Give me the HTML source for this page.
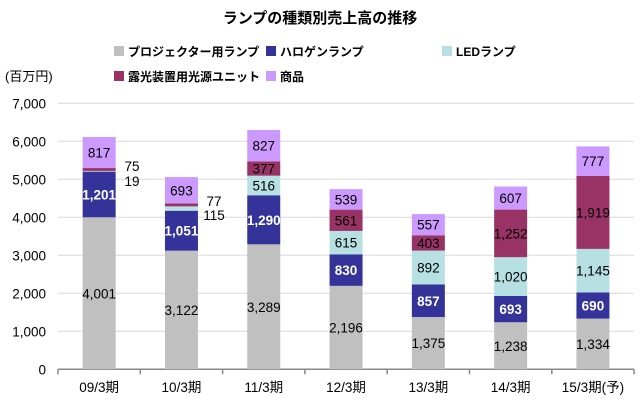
<!DOCTYPE html>
<html><head><meta charset="utf-8"><style>
body{margin:0;background:#fff}
text{font-family:"Liberation Sans","Noto Sans CJK JP",sans-serif}
</style></head><body>
<svg width="640" height="402" xmlns="http://www.w3.org/2000/svg" id="s">
<text x="320" y="23" text-anchor="middle" font-size="15" font-weight="bold">ランプの種類別売上高の推移</text>
<rect x="114" y="46" width="10" height="10" fill="#c0c0c0"/><text x="128" y="56" font-size="12" font-weight="bold">プロジェクター用ランプ</text>
<rect x="266" y="46" width="10" height="10" fill="#333399"/><text x="280" y="56" font-size="12" font-weight="bold">ハロゲンランプ</text>
<rect x="442" y="46" width="10" height="10" fill="#b7e0e3"/><text x="456" y="56" font-size="12" font-weight="bold">LEDランプ</text>
<rect x="114" y="71" width="10" height="10" fill="#993366"/><text x="128" y="81" font-size="12" font-weight="bold">露光装置用光源ユニット</text>
<rect x="266" y="71" width="10" height="10" fill="#cc99ff"/><text x="280" y="81" font-size="12" font-weight="bold">商品</text>
<text x="5" y="81" font-size="13">(百万円)</text>
<g id="grid"></g>
<g id="bars"></g>
</svg>
<script>
const s=document.getElementById('s'),NS='http://www.w3.org/2000/svg';
function el(t,a,txt){const e=document.createElementNS(NS,t);for(const k in a)e.setAttribute(k,a[k]);if(txt!=null)e.textContent=txt;s.appendChild(e);return e;}
const y0=369.3,k=0.038;
for(let i=0;i<=7;i++){const y=y0-i*1000*k;
 if(i>0)el('line',{x1:58,x2:634,y1:y,y2:y,stroke:'#d9d9d9','stroke-width':1});
 el('text',{x:46,y:y+5,'text-anchor':'end','font-size':13.5},i==0?'0':i+',000');}
el('line',{x1:58,x2:634,y1:y0,y2:y0,stroke:'#888','stroke-width':1.5});
for(let i=0;i<=7;i++){const x=58+i*82.3;el('line',{x1:x,x2:x,y1:y0,y2:y0+5,stroke:'#888','stroke-width':1.5});}
const cols=['#c0c0c0','#333399','#b7e0e3','#993366','#cc99ff'];
const data=[[4001,1201,19,75,817],[3122,1051,115,77,693],[3289,1290,516,377,827],[2196,830,615,561,539],[1375,857,892,403,557],[1238,693,1020,1252,607],[1334,690,1145,1919,777]];
const cats=['09/3期','10/3期','11/3期','12/3期','13/3期','14/3期','15/3期(予)'];
data.forEach((d,i)=>{const cx=58+82.3*i+41.15,x=cx-16.5;let cum=0;
 d.forEach((v,j)=>{const yt=y0-(cum+v)*k,h=v*k;el('rect',{x:x,y:yt,width:33,height:h,fill:cols[j]});
  const f=n=>n.toLocaleString('en-US');
  if(i<2&&(j==2||j==3)){}
  else el('text',{x:cx,y:yt+h/2+5,'text-anchor':'middle','font-size':13.5,fill:j==1?'#fff':'#000','font-weight':j==1?'bold':'normal'},f(v));
  cum+=v;});
 el('text',{x:cx,y:392,'text-anchor':'middle','font-size':13.5},cats[i]);
});
el('text',{x:132,y:171,'text-anchor':'middle','font-size':13.5},'75');
el('text',{x:132,y:186,'text-anchor':'middle','font-size':13.5},'19');
el('text',{x:214,y:206,'text-anchor':'middle','font-size':13.5},'77');
el('text',{x:214,y:220,'text-anchor':'middle','font-size':13.5},'115');
</script>
</body></html>
